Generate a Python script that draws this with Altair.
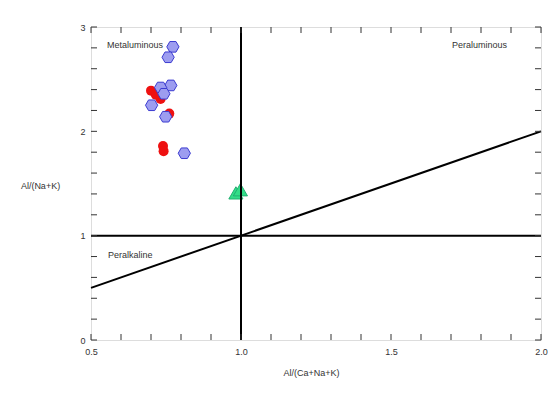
import altair as alt
import pandas as pd

# Data
hex_x = [0.773, 0.757, 0.766, 0.732, 0.743, 0.702, 0.749, 0.811]
hex_y = [2.81, 2.71, 2.44, 2.42, 2.36, 2.25, 2.14, 1.79]

red_x = [0.700, 0.716, 0.732, 0.761, 0.740, 0.742]
red_y = [2.39, 2.35, 2.31, 2.17, 1.86, 1.81]

tri_x = [0.983, 0.998]
tri_y = [1.41, 1.44]

boundary_x = [0.5, 2.0]
boundary_y = [0.5, 2.0]

x_tick_labels = [0.5, 1.0, 1.5, 2.0]
y_tick_labels = [0, 1, 2, 3]
x_minor = [round(0.5 + 0.1 * i, 2) for i in range(16)]
y_minor = [round(0.2 * i, 2) for i in range(16)]

W, H = 450, 313
FONT = "Liberation Sans"
TXT = "#333333"

xs = alt.Scale(domain=[0.5, 2.0], nice=False, zero=False)
ys = alt.Scale(domain=[0, 3], nice=False, zero=False)

hex_df = pd.DataFrame({"x": hex_x, "y": hex_y})
red_df = pd.DataFrame({"x": red_x, "y": red_y})
tri_df = pd.DataFrame({"x": tri_x, "y": tri_y})
bnd_df = pd.DataFrame({"x": boundary_x, "y": boundary_y})
xt_df = pd.DataFrame({"x": x_minor})
yt_df = pd.DataFrame({"y": y_minor})

hexagon = "M-1,0L-0.5,-0.866L0.5,-0.866L1,0L0.5,0.866L-0.5,0.866Z"

base_x = alt.X("x:Q", scale=xs, title="Al/(Ca+Na+K)",
               axis=alt.Axis(values=x_tick_labels, format=".1f", ticks=False, domain=False,
                             grid=False, labelPadding=7, labelFontSize=9, labelColor=TXT,
                             labelFont=FONT, labelFlush=False, titleFont=FONT, titleFontSize=9,
                             titleFontWeight="normal", titleColor=TXT, titleY=32,
                             titleX=220, titleBaseline="middle"))
base_y = alt.Y("y:Q", scale=ys, title="Al/(Na+K)",
               axis=alt.Axis(values=y_tick_labels, format="d", ticks=False, domain=False,
                             grid=False, labelPadding=6, labelFontSize=9, labelColor=TXT,
                             labelFont=FONT, labelFlush=False,
                             titleFont=FONT, titleFontSize=9, titleFontWeight="normal",
                             titleColor=TXT, titleAngle=0, titleX=-51, titleY=158,
                             titleAlign="center", titleBaseline="middle"))

red = alt.Chart(red_df).mark_point(shape="circle", filled=True, size=100, color="#ee1111",
                                   opacity=1).encode(x=base_x, y=base_y)
hexes = alt.Chart(hex_df).mark_point(shape=hexagon, filled=True, size=150, fill="#9d9df0",
                                     stroke="#3b3bd0", strokeWidth=1, opacity=1).encode(
    x=alt.X("x:Q", scale=xs), y=alt.Y("y:Q", scale=ys))
tris = alt.Chart(tri_df).mark_point(shape="triangle-up", filled=True, size=200, fill="#33dd88",
                                    stroke="#20b070", strokeWidth=1, opacity=1).encode(
    x=alt.X("x:Q", scale=xs), y=alt.Y("y:Q", scale=ys))

vline = alt.Chart(pd.DataFrame({"x": [1.0]})).mark_rule(color="black", strokeWidth=2).encode(
    x=alt.X("x:Q", scale=xs))
hline = alt.Chart(pd.DataFrame({"y": [1.0]})).mark_rule(color="black", strokeWidth=2).encode(
    y=alt.Y("y:Q", scale=ys))
diag = alt.Chart(bnd_df).mark_line(color="black", strokeWidth=2).encode(
    x=alt.X("x:Q", scale=xs), y=alt.Y("y:Q", scale=ys))

tick_color = "#333333"
xb = alt.Chart(xt_df).mark_rule(color=tick_color, strokeWidth=1).encode(
    x=alt.X("x:Q", scale=xs), y=alt.value(H), y2=alt.value(H - 6))
xtp = alt.Chart(xt_df).mark_rule(color=tick_color, strokeWidth=1).encode(
    x=alt.X("x:Q", scale=xs), y=alt.value(0), y2=alt.value(6))
yl = alt.Chart(yt_df).mark_rule(color=tick_color, strokeWidth=1).encode(
    y=alt.Y("y:Q", scale=ys), x=alt.value(0), x2=alt.value(6))
yr = alt.Chart(yt_df).mark_rule(color=tick_color, strokeWidth=1).encode(
    y=alt.Y("y:Q", scale=ys), x=alt.value(W), x2=alt.value(W - 6))

def label(text, px, py):
    return alt.Chart(pd.DataFrame({"t": [text]})).mark_text(
        align="left", baseline="middle", font=FONT, fontSize=9, color=TXT).encode(
        text="t:N", x=alt.value(px), y=alt.value(py))

labels = label("Metaluminous", 16, 18) + label("Peraluminous", 361, 18) + label("Peralkaline", 17, 228)

chart = alt.layer(red, hexes, tris, vline, hline, diag, xb, xtp, yl, yr, labels).properties(
    width=W, height=H,
    autosize=alt.AutoSizeParams(type="none"),
    padding={"left": 83, "top": 19, "right": 7, "bottom": 45},
).configure_view(fill="#ffffe0", stroke="#333333", strokeWidth=1).configure(background="white")

chart.save("out.html", embed_options={"renderer": "svg", "actions": False})
